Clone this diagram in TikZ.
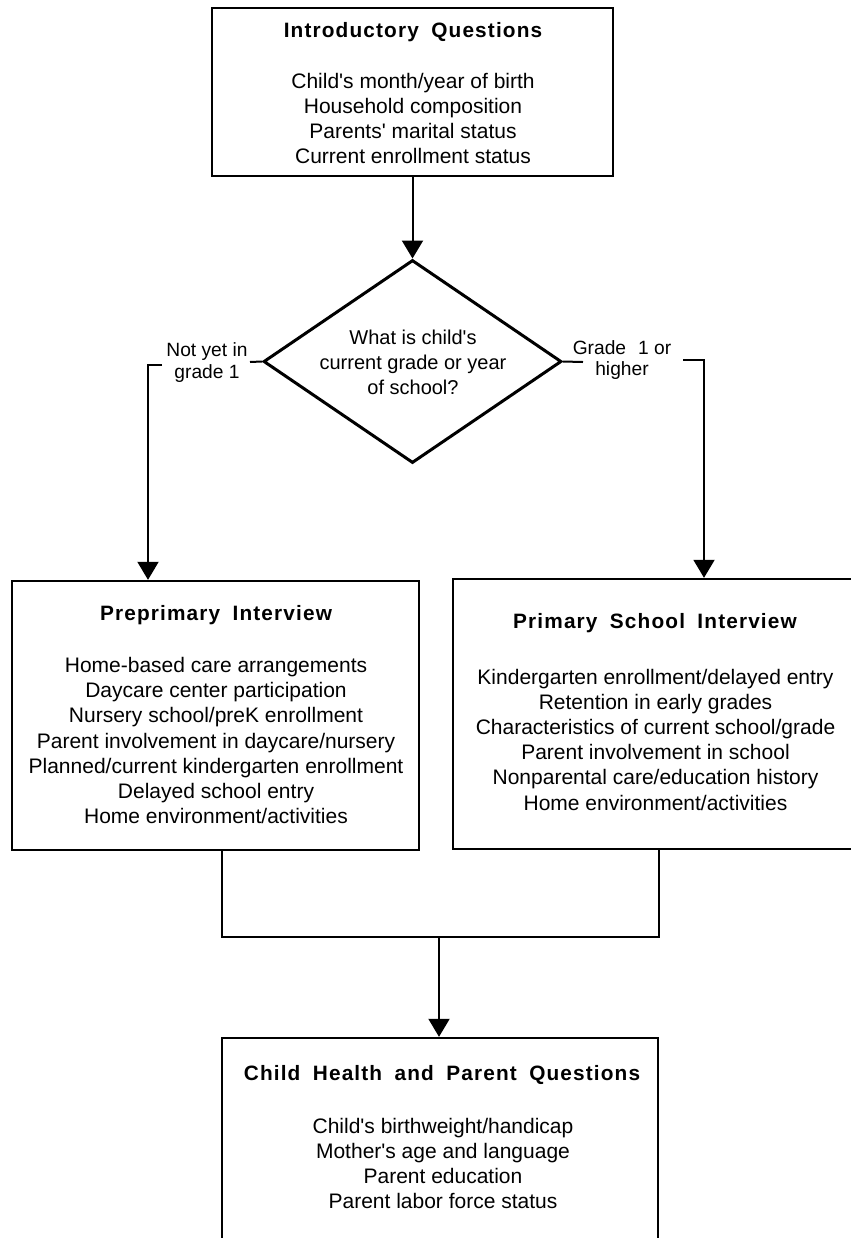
\documentclass[tikz,border=0pt]{standalone}
\usepackage{fontspec}
\setmainfont{Liberation Sans}
\newfontfamily\ttlfont[LetterSpace=5.5,WordSpace=1.8]{Liberation Sans}
\usetikzlibrary{shapes.geometric,arrows.meta}
\newcommand{\ap}{\textquotesingle}
\begin{document}
\begin{tikzpicture}[x=0.5pt,y=-0.5pt,
  box/.style={draw, line width=1.2pt, rectangle, inner sep=0pt},
  ttl/.style={inner sep=0pt, font=\ttlfont\bfseries\fontsize{10.4}{12}\selectfont},
  items/.style={inner sep=0pt, align=center, font=\fontsize{10.5}{12.6}\selectfont},
  qtext/.style={inner sep=0pt, align=center, font=\fontsize{10}{12.5}\selectfont},
  brtext/.style={inner sep=0pt, align=center, font=\fontsize{9.6}{10.6}\selectfont},
  conn/.style={line width=1pt},
  arr/.style={conn, -{Triangle[width=10.5pt,length=9pt]}}
  ]
\useasboundingbox (0,0) rectangle (851,1238);
\clip (0,0) rectangle (851,1238);

% Introductory box
\node[box, minimum width=200.5pt, minimum height=84pt] (intro) at (412.5,92) {};
\node[ttl] (introT) at (413,32) {Introductory Questions};
\node[items] (introL) at (413,118.5) {Child\ap s month/year of birth\\Household composition\\Parents\ap{} marital status\\Current enrollment status};

% Decision diamond
\node[diamond, draw, line width=1.5pt, inner sep=0pt, minimum width=149pt, minimum height=101.5pt] (dia) at (412.5,361.5) {};
\node[qtext] (diaT) at (413,362) {What is child\ap s\\current grade or year\\of school?};

% Preprimary box
\node[box, minimum width=203.5pt, minimum height=134.5pt] (pre) at (215.5,715.5) {};
\node[ttl] (preT) at (216,615) {Preprimary Interview};
\node[items] (preL) at (216,740.5) {Home-based care arrangements\\Daycare center participation\\Nursery school/preK enrollment\\Parent involvement in daycare/nursery\\Planned/current kindergarten enrollment\\Delayed school entry\\Home environment/activities};

% Primary school box
\node[box, minimum width=203.5pt, minimum height=135pt] (prim) at (656.5,714) {};
\node[ttl] (primT) at (655,623) {Primary School Interview};
\node[items] (primL) at (655.5,739.5) {Kindergarten enrollment/delayed entry\\Retention in early grades\\Characteristics of current school/grade\\Parent involvement in school\\Nonparental care/education history\\Home environment/activities};

% Child health box
\node[box, minimum width=218pt, minimum height=100.5pt] (health) at (440,1138.5) {};
\node[ttl] (healthT) at (442,1075) {Child Health and Parent Questions};
\node[items] (healthL) at (443,1163.5) {Child\ap s birthweight/handicap\\Mother\ap s age and language\\Parent education\\Parent labor force status};

% Branch labels
\node[brtext] (notyet) at (207,362.5) {Not yet in\\grade 1};
\node[brtext] (gradeone) at (622,360) {Grade\hspace{0.35em} 1 or\\higher};

% Connectors
\draw[arr] (intro.south) -- (intro.south |- dia.north);

\coordinate (lstub) at (250,362);
\draw[conn] (dia.west) -- (lstub);
\coordinate (lbr) at (162,365);
\coordinate (lcol) at (148,365);
\draw[arr] (lbr) -- (lcol) -- (lcol |- pre.north);

\coordinate (rstub) at (583,362);
\draw[conn] (dia.east) -- (rstub);
\coordinate (rbr) at (683,360);
\coordinate (rcol) at (704,360);
\draw[arr] (rbr) -- (rcol) -- (rcol |- prim.north);

\coordinate (mL) at (222,937);
\coordinate (mR) at (659,937);
\coordinate (mC) at (439,937);
\draw[conn] (pre.south -| mL) -- (mL) -- (mR) -- (prim.south -| mR);
\draw[arr] (mC) -- (mC |- health.north);
\end{tikzpicture}
\end{document}
